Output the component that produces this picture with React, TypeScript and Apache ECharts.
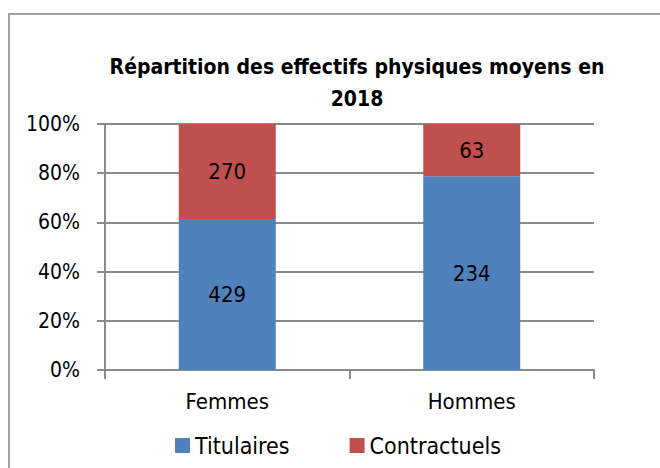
import React, { useEffect, useRef } from "react";
import * as echarts from "echarts";

const categories = ["Femmes", "Hommes"];
const titulaires = [429, 234];
const contractuels = [270, 63];
const seriesNames = ["Titulaires", "Contractuels"];
const yTicks = [0, 20, 40, 60, 80, 100];

const FONT = "'DejaVu Sans Condensed', 'Liberation Sans Narrow', sans-serif";
const GRAY = "#8a8a8a";

export default function App() {
  const ref = useRef<HTMLDivElement>(null);
  useEffect(() => {
    document.body.style.margin = "0";
    if (!ref.current) return;
    const chart = echarts.init(ref.current, undefined, { renderer: "svg" });
    const totals = categories.map((_, i) => titulaires[i] + contractuels[i]);
    const pct = (arr: number[]) => arr.map((v, i) => (v / totals[i]) * 100);
    const raw = [titulaires, contractuels];
    chart.setOption({
      animation: false,
      backgroundColor: "#ffffff",
      textStyle: { fontFamily: FONT },
      graphic: [
        {
          type: "rect",
          shape: { x: 9, y: 14, width: 700, height: 500 },
          style: { fill: "none", stroke: "#a0a0a0", lineWidth: 2 },
          silent: true,
        },
        {
          type: "text",
          x: 357,
          y: 51,
          style: {
            text: "Répartition des effectifs physiques moyens en\n2018",
            align: "center",
            verticalAlign: "top",
            font: `bold 21px ${FONT}`,
            lineHeight: 32,
            fill: "#000",
          },
        },
      ],
      legend: {
        data: seriesNames,
        left: 170,
        top: 429,
        itemWidth: 15,
        itemHeight: 15,
        itemGap: 60,
        icon: "rect",
        textStyle: { fontSize: 23, color: "#000", fontFamily: FONT },
      },
      grid: { left: 105, right: 66, top: 124, bottom: 98, containLabel: false },
      xAxis: {
        type: "category",
        data: categories,
        axisLine: { lineStyle: { color: GRAY, width: 2 } },
        axisTick: { show: true, length: 9, lineStyle: { color: GRAY, width: 2 } },
        axisLabel: { fontSize: 22, color: "#000", margin: 20, fontFamily: FONT },
      },
      yAxis: {
        type: "value",
        min: yTicks[0],
        max: yTicks[yTicks.length - 1],
        interval: 20,
        axisLine: { show: true, lineStyle: { color: GRAY, width: 2 } },
        axisTick: { show: true, length: 8, lineStyle: { color: GRAY, width: 2 } },
        splitLine: { lineStyle: { color: GRAY, width: 2 } },
        axisLabel: { formatter: "{value}%", fontSize: 21, color: "#000", margin: 25, fontFamily: FONT },
      },
      series: [
        { name: seriesNames[0], data: pct(titulaires), color: "#4f81bd" },
        { name: seriesNames[1], data: pct(contractuels), color: "#c0504d" },
      ].map((s, si) => ({
        ...s,
        type: "bar",
        stack: "total",
        barWidth: 97,
        itemStyle: { color: s.color },
        label: {
          show: true,
          position: "inside",
          fontSize: 22,
          color: "#000",
          fontFamily: FONT,
          formatter: (p: any) => String(raw[si][p.dataIndex]),
        },
      })),
    });
    return () => chart.dispose();
  }, []);
  return <div ref={ref} style={{ width: 660, height: 468 }} />;
}
